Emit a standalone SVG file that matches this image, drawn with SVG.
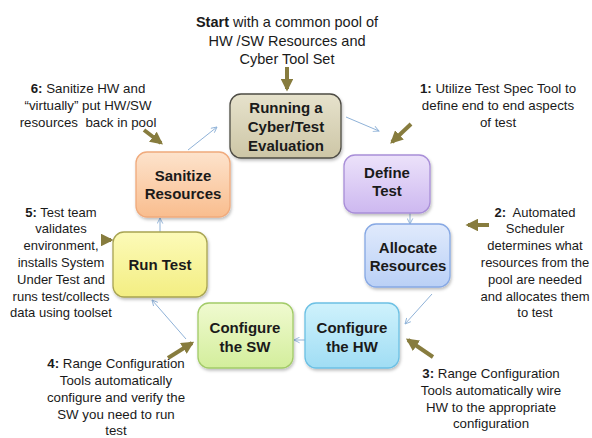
<svg xmlns="http://www.w3.org/2000/svg" width="592" height="438" viewBox="0 0 592 438">
<style>
.node text{font-family:"Liberation Sans",Arial,sans-serif;font-size:15px;font-weight:bold;fill:#1a1a1a;text-anchor:middle}
.note{font-family:"Liberation Sans",Arial,sans-serif;font-size:13.3px;fill:#1a1a1a;text-anchor:middle}
.note tspan.b{font-weight:bold}
.start{font-size:14.5px}
.sm{font-size:13px}
.conn line{stroke:#8fb2d8;stroke-width:1;fill:none;marker-end:url(#blue)}
.callout line{stroke:#877c3e;stroke-width:4;marker-end:url(#olive)}
.box{stroke-width:1.3;filter:url(#sh)}
</style>
<defs>
<filter id="sh" x="-10%" y="-10%" width="130%" height="130%"><feDropShadow dx="1" dy="2" stdDeviation="1.5" flood-color="#000" flood-opacity="0.25"/></filter>
<marker id="blue" viewBox="0 0 10 10" refX="9" refY="5" markerWidth="7" markerHeight="7" orient="auto" markerUnits="userSpaceOnUse"><polyline points="1,1 9,5 1,9" fill="none" stroke="#8fb2d8" stroke-width="1.3"/></marker>
<marker id="olive" viewBox="0 0 10 10" refX="8" refY="5" markerWidth="3.2" markerHeight="3.2" orient="auto"><path d="M0,0 L10,5 L0,10 Z" fill="#877c3e"/></marker>
<linearGradient id="gRun" x1="0" y1="0" x2="0" y2="1"><stop offset="0" stop-color="#e6e2cc"/><stop offset="1" stop-color="#cdc6a6"/></linearGradient>
<linearGradient id="gDef" x1="0" y1="0" x2="0" y2="1"><stop offset="0" stop-color="#ece2fa"/><stop offset="1" stop-color="#cdb8f0"/></linearGradient>
<linearGradient id="gAll" x1="0" y1="0" x2="0" y2="1"><stop offset="0" stop-color="#e0eafc"/><stop offset="1" stop-color="#bad0f6"/></linearGradient>
<linearGradient id="gHW" x1="0" y1="0" x2="0" y2="1"><stop offset="0" stop-color="#cff2fc"/><stop offset="1" stop-color="#a0ddf4"/></linearGradient>
<linearGradient id="gSW" x1="0" y1="0" x2="0" y2="1"><stop offset="0" stop-color="#f0fad0"/><stop offset="1" stop-color="#d3ee9c"/></linearGradient>
<linearGradient id="gRT" x1="0" y1="0" x2="0" y2="1"><stop offset="0" stop-color="#fcfab8"/><stop offset="1" stop-color="#f3ee82"/></linearGradient>
<linearGradient id="gSan" x1="0" y1="0" x2="0" y2="1"><stop offset="0" stop-color="#fde3cc"/><stop offset="1" stop-color="#f9bd8e"/></linearGradient>
</defs>
<rect width="592" height="438" fill="#ffffff"/>

<g id="connectors" class="conn">
<line x1="346" y1="117" x2="379" y2="131"/>
<line x1="410" y1="213" x2="410" y2="224"/>
<line x1="432" y1="294" x2="405" y2="324"/>
<line x1="305" y1="340" x2="294" y2="340"/>
<line x1="186" y1="339" x2="152" y2="300"/>
<line x1="160" y1="232" x2="160" y2="218"/>
<line x1="188" y1="150" x2="217" y2="127"/>
</g>

<g id="callouts" class="callout">
<line x1="287" y1="67" x2="287" y2="89"/>
<line x1="411" y1="124" x2="392" y2="142"/>
<line x1="489" y1="225" x2="468" y2="225"/>
<line x1="433" y1="357" x2="408" y2="340"/>
<line x1="168" y1="358" x2="192" y2="343"/>
<line x1="101" y1="240" x2="111" y2="240"/>
<line x1="144" y1="130" x2="161" y2="143"/>
</g>

<g id="running" class="node">
<rect class="box" x="230" y="94" width="111" height="64" rx="11" fill="url(#gRun)" stroke="#4d4c44"/>
<text x="286" y="113">Running a</text>
<text x="286" y="132">Cyber/Test</text>
<text x="286" y="151">Evaluation</text>
</g>
<g id="define" class="node">
<rect class="box" x="344" y="155" width="86" height="58" rx="11" fill="url(#gDef)" stroke="#a88ed8"/>
<text x="387" y="178">Define</text>
<text x="387" y="196">Test</text>
</g>
<g id="allocate" class="node">
<rect class="box" x="365" y="224" width="85" height="63" rx="11" fill="url(#gAll)" stroke="#86a8e4"/>
<text x="408" y="253">Allocate</text>
<text x="408" y="271">Resources</text>
</g>
<g id="confighw" class="node">
<rect class="box" x="305" y="303" width="94" height="65" rx="11" fill="url(#gHW)" stroke="#6cc0e4"/>
<text x="352" y="333">Configure</text>
<text x="352" y="352">the HW</text>
</g>
<g id="configsw" class="node">
<rect class="box" x="198" y="303" width="95" height="65" rx="11" fill="url(#gSW)" stroke="#a2cb68"/>
<text x="245" y="333">Configure</text>
<text x="245" y="352">the SW</text>
</g>
<g id="runtest" class="node">
<rect class="box" x="113" y="232" width="94" height="65" rx="11" fill="url(#gRT)" stroke="#a8a452"/>
<text x="160" y="270">Run Test</text>
</g>
<g id="sanitize" class="node">
<rect class="box" x="136" y="152" width="94" height="65" rx="11" fill="url(#gSan)" stroke="#f0aa7c"/>
<text x="183" y="181">Sanitize</text>
<text x="183" y="199">Resources</text>
</g>

<g id="notes">
<text class="note start" x="287"><tspan x="287" y="27"><tspan class="b">Start</tspan> with a common pool of</tspan><tspan x="287" y="46">HW /SW Resources and</tspan><tspan x="287" y="64">Cyber Tool Set</tspan></text>
<text class="note"><tspan x="88" y="93"><tspan class="b">6:</tspan> Sanitize HW and</tspan><tspan x="88" y="110">“virtually” put HW/SW</tspan><tspan x="88" y="127">resources&#160; back in pool</tspan></text>
<text class="note"><tspan x="498" y="93"><tspan class="b">1:</tspan> Utilize Test Spec Tool to</tspan><tspan x="498" y="110">define end to end aspects</tspan><tspan x="498" y="127">of test</tspan></text>
<text class="note sm"><tspan x="535" y="217"><tspan class="b">2:</tspan>&#160; Automated</tspan><tspan x="535" y="233">Scheduler</tspan><tspan x="535" y="250">determines what</tspan><tspan x="535" y="267">resources from the</tspan><tspan x="535" y="284">pool are needed</tspan><tspan x="535" y="301">and allocates them</tspan><tspan x="535" y="317">to test</tspan></text>
<text class="note sm"><tspan x="61" y="217"><tspan class="b">5:</tspan> Test team</tspan><tspan x="61" y="233">validates</tspan><tspan x="61" y="250">environment,</tspan><tspan x="61" y="267">installs System</tspan><tspan x="61" y="284">Under Test and</tspan><tspan x="61" y="301">runs test/collects</tspan><tspan x="61" y="317">data using toolset</tspan></text>
<text class="note"><tspan x="116" y="368"><tspan class="b">4:</tspan> Range Configuration</tspan><tspan x="116" y="385">Tools automatically</tspan><tspan x="116" y="402">configure and verify the</tspan><tspan x="116" y="419">SW you need to run</tspan><tspan x="116" y="435">test</tspan></text>
<text class="note"><tspan x="491" y="378"><tspan class="b">3:</tspan> Range Configuration</tspan><tspan x="491" y="395">Tools automatically wire</tspan><tspan x="491" y="412">HW to the appropriate</tspan><tspan x="491" y="428">configuration</tspan></text>
</g>
</svg>
